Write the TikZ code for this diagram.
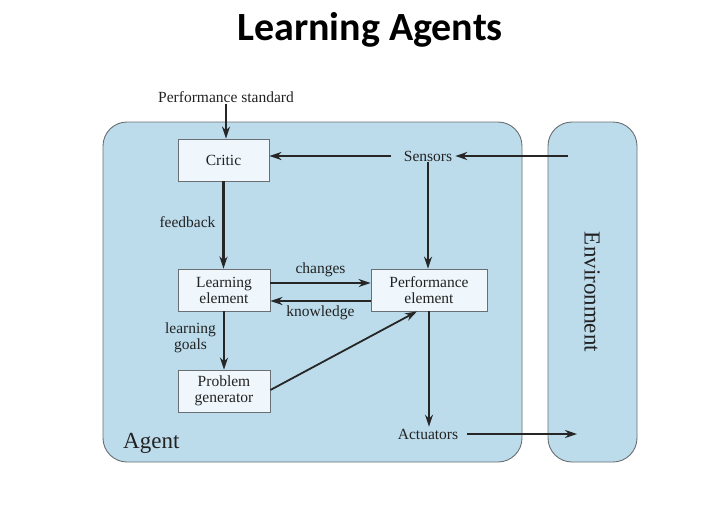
\documentclass[tikz,border=0pt]{standalone}
\usepackage{fontspec}
\setmainfont{Liberation Serif}
\newfontfamily\titlefont{Carlito}
\usetikzlibrary{arrows.meta}
\definecolor{agentblue}{HTML}{BCDCEC}
\definecolor{boxfill}{HTML}{EFF7FC}
\definecolor{edgegray}{HTML}{6A6F73}
\definecolor{txt}{HTML}{222222}
\tikzset{
  region/.style={draw=edgegray, line width=0.9pt, fill=agentblue, rounded corners=24pt},
  compbox/.style={draw=edgegray, line width=0.8pt, fill=boxfill, minimum width=92pt, minimum height=42pt, inner sep=0pt, align=center, font=\fontsize{15.5}{16}\selectfont, text=txt},
  lbl/.style={font=\fontsize{15.5}{16}\selectfont, text=txt, inner sep=1pt, align=center},
  flow/.style={draw=black!85, line width=2.1pt, -{Stealth[length=12pt,width=8pt]}},
}
\begin{document}
\begin{tikzpicture}[x=1pt,y=-1pt]
\useasboundingbox (0,0) rectangle (704,504);
\fill[white] (0,0) rectangle (704,504);
\node[font=\titlefont\bfseries\fontsize{40}{40}\selectfont, anchor=base] (title) at (370,40) {Learning Agents};
% regions
\draw[region] (103,122) rectangle (522,462);
\draw[region] (548,122) rectangle (637,462);
\node[font=\fontsize{23}{23}\selectfont, text=txt, anchor=base west, inner sep=0pt] (agent) at (123,448) {Agent};
\node[font=\fontsize{23}{23}\selectfont, text=txt, rotate=-90, inner sep=0pt] (env) at (592,292) {Environment};
% boxes
\node[compbox, minimum width=91pt] (critic) at (223.5,160) {Critic};
\node[compbox] (learn) at (224,290) {Learning\\element};
\node[compbox, minimum width=116pt] (perf) at (429,290) {Performance\\element};
\node[compbox] (prob) at (224,391) {Problem\\generator};
% labels
\node[lbl] (ps) at (226,97) {Performance standard};
\node[lbl] (sensors) at (428,156) {Sensors};
\node[lbl] (act) at (428,434) {Actuators};
\coordinate (envin) at (568,156);
\coordinate (envout) at (577,434);
% connectors
\draw[flow] (ps.south -| critic.north) ++(2.5,0) coordinate (psx) -- (psx |- critic.north);
\draw[flow] (sensors.west) ++(-12,0) coordinate (sw) -- (critic.east |- sw);
\draw[flow, line width=1.8pt] (envin) -- ([xshift=2pt]sensors.east);
\draw[flow] (sensors.south) -- (perf.north -| sensors.south);
\draw[flow] (critic.south) -- node[lbl, left=6pt, pos=0.47] (fb) {feedback} (learn.north -| critic.south);
\draw[flow] ([yshift=7pt]learn.east) -- node[lbl, above=4pt] (ch) {changes} ([yshift=7pt]perf.west);
\draw[flow] ([yshift=-11pt]perf.west) -- node[lbl, below=3pt] (kn) {knowledge} ([yshift=-11pt]learn.east);
\draw[flow] (learn.south) -- node[lbl, left=6pt, pos=0.45] (lg) {learning\\goals} (prob.north);
\draw[flow, line width=1.8pt] ([yshift=1pt]prob.east) -- ([xshift=-12pt]perf.south);
\draw[flow] (perf.south) -- ([yshift=1pt]act.north -| perf.south);
\draw[flow, line width=1.8pt] ([xshift=8pt]act.east) -- (envout);
\end{tikzpicture}
\end{document}
